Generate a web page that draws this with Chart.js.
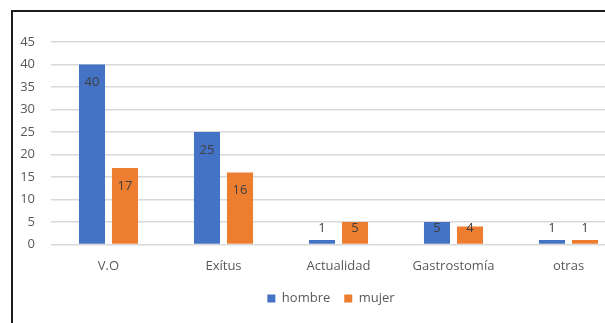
<!DOCTYPE html>
<html>
<head>
<meta charset="utf-8">
<script src="https://cdn.jsdelivr.net/npm/chart.js@4.4.0/dist/chart.umd.min.js"></script>
<style>
    html, body {
        margin: 0;
        padding: 0;
        width: 605px;
        height: 323px;
        overflow: hidden;
        background: #ffffff;
    }
    #frame {
        position: absolute;
        left: 11px;
        top: 10px;
        width: 660px;
        height: 340px;
        border-left: 2px solid #1c1c1c;
        border-top: 2px solid #1c1c1c;
    }
    #chartBox {
        position: absolute;
        left: 0;
        top: 0;
        width: 640px;
        height: 303px;
    }
</style>
</head>
<body>
<div id="frame">
    <div id="chartBox"><canvas id="usoChart"></canvas></div>
</div>
<script>
    const categorias = ["V.O", "Exítus", "Actualidad", "Gastrostomía", "otras"];
    const hombre = [40, 25, 1, 5, 1];
    const mujer = [17, 16, 5, 4, 1];
    const yMax = 45;
    const yPaso = 5;

    const textColor = "#595959";
    const fontFamily = "'Open Sans', 'Liberation Sans', sans-serif";

    // etiquetas de datos al estilo Excel (extremo interior)
    const etiquetasPlugin = {
        id: "etiquetas",
        afterDatasetsDraw(chart) {
            const ctx = chart.ctx;
            const base = chart.scales.y.getPixelForValue(0);
            ctx.save();
            ctx.font = "13px " + fontFamily;
            ctx.fillStyle = "#404040";
            ctx.textAlign = "center";
            ctx.textBaseline = "middle";
            chart.data.datasets.forEach(function (ds, i) {
                chart.getDatasetMeta(i).data.forEach(function (bar, j) {
                    const y = Math.min(bar.y + 18, base - 16);
                    ctx.fillText(String(ds.data[j]), bar.x, y);
                });
            });
            ctx.restore();
        },
    };

    // la leyenda va un poco corrida a la derecha en el original
    const leyendaPlugin = {
        id: "leyendaOffset",
        afterLayout(chart) {
            if (chart.legend) {
                chart.legend.left += 8;
                chart.legend.right += 8;
            }
        },
    };

    const ctx = document.getElementById("usoChart").getContext("2d");
    new Chart(ctx, {
        type: "bar",
        data: {
            labels: categorias,
            datasets: [
                {
                    label: "hombre",
                    data: hombre,
                    backgroundColor: "#4472C4",
                    categoryPercentage: 0.574,
                    barPercentage: 0.79,
                },
                {
                    label: "mujer",
                    data: mujer,
                    backgroundColor: "#ED7D31",
                    categoryPercentage: 0.574,
                    barPercentage: 0.79,
                },
            ],
        },
        options: {
            responsive: true,
            maintainAspectRatio: false,
            animation: false,
            devicePixelRatio: 1,
            layout: {
                padding: {
                    top: 30,
                    right: 27,
                    bottom: 0,
                    left: 7,
                },
            },
            plugins: {
                legend: {
                    position: "bottom",
                    labels: {
                        boxWidth: 8,
                        boxHeight: 8,
                        padding: 14,
                        color: textColor,
                        font: { size: 13, family: fontFamily },
                    },
                },
                tooltip: { enabled: false },
            },
            scales: {
                x: {
                    afterFit: function (scale) {
                        scale.height -= 10;
                    },
                    grid: { display: false, drawTicks: false },
                    border: { display: false },
                    ticks: {
                        color: textColor,
                        padding: 14,
                        font: { size: 13, family: fontFamily },
                    },
                },
                y: {
                    min: 0,
                    max: yMax,
                    afterFit: function (scale) {
                        scale.width = 31;
                    },
                    grid: {
                        color: "#d9d9d9",
                        lineWidth: 1.5,
                        drawTicks: false,
                    },
                    border: { display: false },
                    ticks: {
                        stepSize: yPaso,
                        color: textColor,
                        padding: 16,
                        font: { size: 13, family: fontFamily },
                    },
                },
            },
        },
        plugins: [etiquetasPlugin, leyendaPlugin],
    });
</script>
</body>
</html>
